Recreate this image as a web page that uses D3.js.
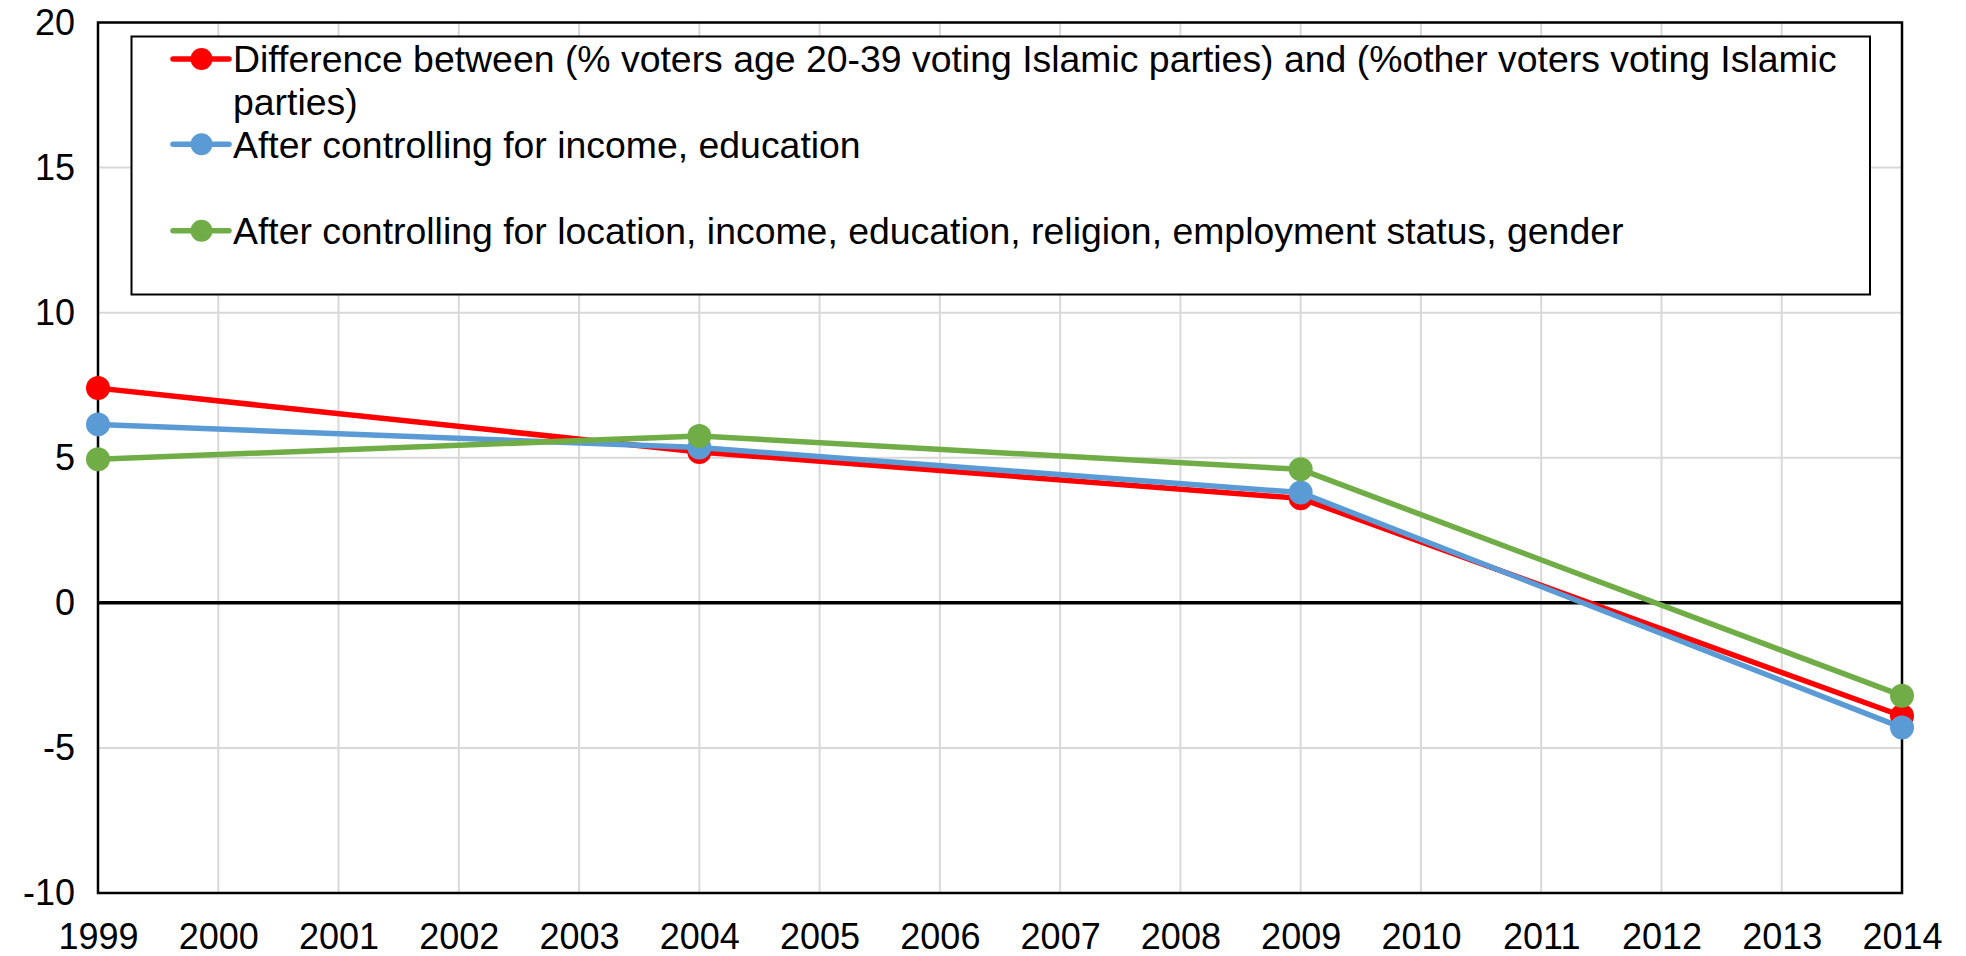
<!DOCTYPE html>
<html>
<head>
<meta charset="utf-8">
<script src="https://cdn.jsdelivr.net/npm/d3@7"></script>
<style>
  body { margin: 0; background: #fff; }
  text { font-family: "Liberation Sans", Arial, sans-serif; fill: #000; }
</style>
</head>
<body>
<div id="chart"></div>
<script>
const years = [1999, 2004, 2009, 2014];
const seriesNames = [
    ['Difference between (% voters age 20-39 voting Islamic parties) and (%other voters voting Islamic', 'parties)'],
    ['After controlling for income, education'],
    ['After controlling for location, income, education, religion, employment status, gender']
];
const rawDiff = [7.4, 5.2, 3.6, -3.9];
const ctrlIncomeEdu = [6.15, 5.35, 3.8, -4.3];
const ctrlAll = [4.95, 5.75, 4.6, -3.2];
const colors = ['#ff0000', '#5b9bd5', '#70ad47'];
const yTicks = [-10, -5, 0, 5, 10, 15, 20];
const xTicks = d3.range(1999, 2015);

const WIDTH = 1966;
const HEIGHT = 956;
const LEFT = 98;
const RIGHT = 1902;
const TOP = 22.5;
const BOTTOM = 893;
const TICK_FONT = 36;
const LEGEND_FONT = 37.4;

const svg = d3.select('#chart')
    .append('svg')
    .attr('width', WIDTH)
    .attr('height', HEIGHT);

const x = d3.scaleLinear().domain([1999, 2014]).range([LEFT, RIGHT]);
const y = d3.scaleLinear().domain([-10, 20]).range([BOTTOM, TOP]);

// gridlines
svg.append('g')
    .selectAll('line.h')
    .data(yTicks)
    .enter()
    .append('line')
    .attr('x1', LEFT).attr('x2', RIGHT)
    .attr('y1', d => y(d)).attr('y2', d => y(d))
    .attr('stroke', '#d9d9d9')
    .attr('stroke-width', 2);

svg.append('g')
    .selectAll('line.v')
    .data(xTicks)
    .enter()
    .append('line')
    .attr('x1', d => x(d)).attr('x2', d => x(d))
    .attr('y1', TOP).attr('y2', BOTTOM)
    .attr('stroke', '#d9d9d9')
    .attr('stroke-width', 2);

// plot border
svg.append('rect')
    .attr('x', LEFT).attr('y', TOP)
    .attr('width', RIGHT - LEFT).attr('height', BOTTOM - TOP)
    .attr('fill', 'none')
    .attr('stroke', '#000')
    .attr('stroke-width', 2.5);

// zero line
svg.append('line')
    .attr('x1', LEFT).attr('x2', RIGHT)
    .attr('y1', y(0)).attr('y2', y(0))
    .attr('stroke', '#000')
    .attr('stroke-width', 3.5);

// axis labels
const yAxis = svg.append('g')
    .attr('transform', `translate(${LEFT},0)`)
    .call(d3.axisLeft(y).tickValues(yTicks).tickFormat(d => String(d)).tickSize(0).tickPadding(23));
yAxis.select('.domain').remove();
yAxis.selectAll('text')
    .attr('font-size', TICK_FONT)
    .attr('font-family', '"Liberation Sans", Arial, sans-serif')
    .attr('fill', '#000');

const xAxis = svg.append('g')
    .attr('transform', `translate(0,${BOTTOM})`)
    .call(d3.axisBottom(x).tickValues(xTicks).tickFormat(d3.format('d')).tickSize(0).tickPadding(30));
xAxis.select('.domain').remove();
xAxis.selectAll('text')
    .attr('font-size', TICK_FONT)
    .attr('font-family', '"Liberation Sans", Arial, sans-serif')
    .attr('fill', '#000');

// legend
const legend = svg.append('g');
legend.append('rect')
    .attr('x', 131.5).attr('y', 36.5)
    .attr('width', 1738.5).attr('height', 258)
    .attr('fill', '#fff')
    .attr('stroke', '#000')
    .attr('stroke-width', 2);

const rowY = [59, 144.3, 230.7];
seriesNames.forEach((lines, i) => {
    const g = legend.append('g');
    g.append('line')
        .attr('x1', 173).attr('x2', 229)
        .attr('y1', rowY[i]).attr('y2', rowY[i])
        .attr('stroke', colors[i])
        .attr('stroke-width', 5.5)
        .attr('stroke-linecap', 'round');
    g.append('circle')
        .attr('cx', 201.5).attr('cy', rowY[i])
        .attr('r', 11)
        .attr('fill', colors[i]);
    const t = g.append('text')
        .attr('x', 233)
        .attr('y', rowY[i] + LEGEND_FONT * 0.36)
        .attr('font-size', LEGEND_FONT);
    lines.forEach((ln, j) => {
        t.append('tspan')
            .attr('x', 233)
            .attr('dy', j === 0 ? 0 : 42.7)
            .text(ln);
    });
});

// series
const allSeries = [rawDiff, ctrlIncomeEdu, ctrlAll];
const line = d3.line()
    .x((d, i) => x(years[i]))
    .y(d => y(d));

allSeries.forEach((vals, i) => {
    svg.append('path')
        .datum(vals)
        .attr('d', line)
        .attr('fill', 'none')
        .attr('stroke', colors[i])
        .attr('stroke-width', 5.5)
        .attr('stroke-linejoin', 'round');
    svg.append('g')
        .selectAll('circle')
        .data(vals)
        .enter()
        .append('circle')
        .attr('cx', (d, j) => x(years[j]))
        .attr('cy', d => y(d))
        .attr('r', 12)
        .attr('fill', colors[i]);
});
</script>
</body>
</html>
